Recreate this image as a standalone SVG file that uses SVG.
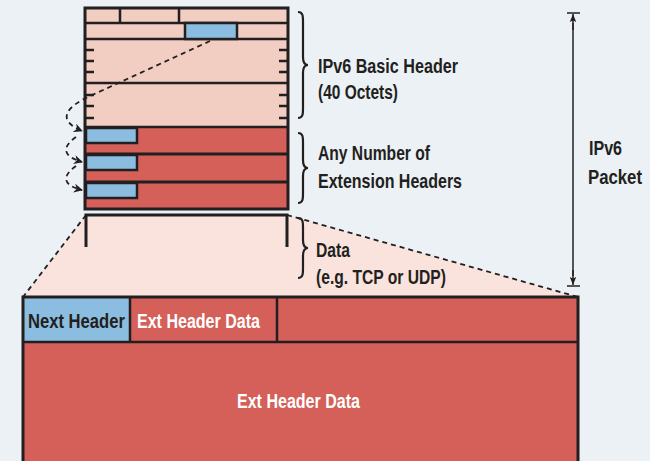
<svg xmlns="http://www.w3.org/2000/svg" width="659" height="461" viewBox="0 0 659 461">
<style>
.bd{stroke:#231f20;stroke-width:3;fill:none}
.sep{stroke:#231f20;stroke-width:2.5;fill:none}
.lt{fill:#f2cdc1}
.rd{fill:#d55f59}
.bl{fill:#8bbde0;stroke:#231f20;stroke-width:2.5}
.tx{font-family:"Liberation Sans",Arial,sans-serif;font-weight:bold;font-size:21px;fill:#231f20}
.wt{fill:#ffffff}
.brace{stroke:#231f20;stroke-width:2.2;fill:none}
.dash{stroke:#231f20;stroke-width:1.8;fill:none;stroke-dasharray:5,4}
.tick{stroke:#231f20;stroke-width:2.5}
</style>
<defs>
<marker id="ah" viewBox="0 0 10 10" refX="9" refY="5" markerWidth="9" markerHeight="9" markerUnits="userSpaceOnUse" orient="auto">
<path d="M0,0 L10,5 L0,10 L3,5 Z" fill="#231f20"/>
</marker>
<marker id="ah2" viewBox="0 0 10 10" refX="10" refY="5" markerWidth="8" markerHeight="8" markerUnits="userSpaceOnUse" orient="auto">
<path d="M0,1 L10,5 L0,9 L2,5 Z" fill="#231f20"/>
</marker>
</defs>
<rect x="0" y="0" width="659" height="461" fill="#ffffff"/>
<rect x="0" y="0" width="650" height="461" fill="#ebf1f5"/>

<g id="data-expansion">
<polygon points="86,215 287,215 578,297 23,297" fill="#f9e3dc"/>
<line x1="86" y1="215" x2="23" y2="297" class="dash" stroke-width="2.5"/>
<line x1="287" y1="215" x2="578" y2="297" class="dash" stroke-width="2.5"/>
</g>

<g id="basic-header">
<rect x="85" y="8" width="203" height="119" class="lt"/>
<line x1="85" y1="23" x2="288" y2="23" class="sep"/>
<line x1="85" y1="39" x2="288" y2="39" class="sep"/>
<line x1="85" y1="83" x2="288" y2="83" class="sep"/>
<line x1="120" y1="8" x2="120" y2="23" class="sep"/>
<line x1="179" y1="8" x2="179" y2="23" class="sep"/>
<rect x="185" y="23" width="52" height="16" class="bl"/>
<g class="tick">
<line x1="85" y1="50" x2="94" y2="50"/><line x1="85" y1="61" x2="94" y2="61"/><line x1="85" y1="72" x2="94" y2="72"/>
<line x1="85" y1="95" x2="94" y2="95"/><line x1="85" y1="106" x2="94" y2="106"/><line x1="85" y1="118" x2="94" y2="118"/>
<line x1="279" y1="50" x2="288" y2="50"/><line x1="279" y1="61" x2="288" y2="61"/><line x1="279" y1="72" x2="288" y2="72"/>
<line x1="279" y1="95" x2="288" y2="95"/><line x1="279" y1="106" x2="288" y2="106"/><line x1="279" y1="118" x2="288" y2="118"/>
</g>
</g>

<g id="ext-headers">
<rect x="85" y="127" width="203" height="82" class="rd"/>
<line x1="85" y1="127" x2="288" y2="127" class="sep"/>
<line x1="85" y1="154" x2="288" y2="154" class="bd"/>
<line x1="85" y1="182" x2="288" y2="182" class="bd"/>
<rect x="86" y="128" width="51" height="15" class="bl"/>
<rect x="86" y="155" width="51" height="15" class="bl"/>
<rect x="86" y="183" width="51" height="15" class="bl"/>
</g>

<rect x="85" y="8" width="203" height="201" class="bd"/>

<g id="data-section">
<path d="M86,247 L86,215 L287,215 L287,247" class="bd"/>
</g>

<g id="ext-header-detail">
<rect x="23" y="297" width="555" height="170" class="rd"/>
<rect x="23" y="297" width="107" height="45" fill="#8bbde0"/>
<line x1="23" y1="342" x2="578" y2="342" class="sep"/>
<line x1="130" y1="297" x2="130" y2="342" class="sep"/>
<line x1="277" y1="297" x2="277" y2="342" class="sep"/>
<rect x="23" y="297" width="555" height="170" class="bd"/>
<text transform="translate(28,328) scale(0.755,1)" x="0" y="0" class="tx" font-size="22" textLength="128.4" lengthAdjust="spacingAndGlyphs">Next Header</text>
<text transform="translate(137,328) scale(0.729,1)" x="0" y="0" class="tx wt" font-size="22" textLength="168.7" lengthAdjust="spacingAndGlyphs">Ext Header Data</text>
<text x="237" y="408" class="tx wt" font-size="22" textLength="123" lengthAdjust="spacingAndGlyphs">Ext Header Data</text>
</g>

<g id="connectors">
<path d="M210,41 L90,96 C66,107 56,120 82,131" class="dash" marker-end="url(#ah)"/>
<path d="M76,137 C62,147 62,156 82,162" class="dash" marker-end="url(#ah)"/>
<path d="M76,166 C62,176 62,185 82,190" class="dash" marker-end="url(#ah)"/>
</g>

<g id="label-basic">
<path d="M298,12 C303,12 303,16 303,22 L303,57 C303,62 305,65 308,65 C305,65 303,68 303,73 L303,108 C303,114 303,118 298,118" class="brace"/>
<text x="318" y="73" class="tx" textLength="140" lengthAdjust="spacingAndGlyphs">IPv6 Basic Header</text>
<text x="318" y="99" class="tx" textLength="80" lengthAdjust="spacingAndGlyphs">(40 Octets)</text>
</g>

<g id="label-ext">
<path d="M298,133 C303,133 303,137 303,143 L303,160 C303,165 305,168 308,168 C305,168 303,171 303,176 L303,193 C303,199 303,203 298,203" class="brace"/>
<text x="318" y="160" class="tx" textLength="112" lengthAdjust="spacingAndGlyphs">Any Number of</text>
<text x="318" y="188" class="tx" textLength="144" lengthAdjust="spacingAndGlyphs">Extension Headers</text>
</g>

<g id="label-data">
<path d="M298,218 C303,218 303,222 303,228 L303,240 C303,245 305,248 308,248 C305,248 303,251 303,256 L303,268 C303,274 303,278 298,278" class="brace"/>
<text x="316" y="257" class="tx" textLength="34" lengthAdjust="spacingAndGlyphs">Data</text>
<text x="316" y="284" class="tx" textLength="130" lengthAdjust="spacingAndGlyphs">(e.g. TCP or UDP)</text>
</g>

<g id="packet-arrow">
<line x1="567" y1="13" x2="580" y2="13" stroke="#231f20" stroke-width="1.5"/>
<line x1="567" y1="286" x2="580" y2="286" stroke="#231f20" stroke-width="1.5"/>
<line x1="573" y1="23" x2="573" y2="276" stroke="#231f20" stroke-width="1.5"/>
<line x1="573" y1="30" x2="573" y2="14" stroke="#231f20" stroke-width="1.5" marker-end="url(#ah2)"/>
<line x1="573" y1="270" x2="573" y2="285" stroke="#231f20" stroke-width="1.5" marker-end="url(#ah2)"/>
<text x="589" y="155" class="tx" textLength="33" lengthAdjust="spacingAndGlyphs">IPv6</text>
<text x="588" y="184" class="tx" textLength="54" lengthAdjust="spacingAndGlyphs">Packet</text>
</g>
</svg>
